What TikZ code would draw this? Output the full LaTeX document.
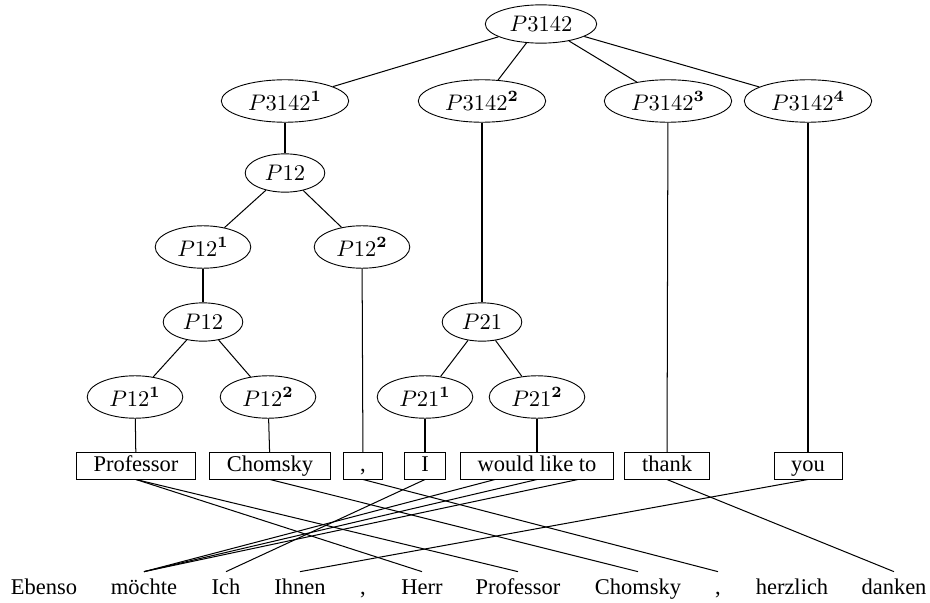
\documentclass[tikz,border=0pt]{standalone}
\usepackage[no-math]{fontspec}
\newfontfamily\wordfont{Liberation Serif}
\usetikzlibrary{shapes.geometric}
\begin{document}
\begin{tikzpicture}[x=0.4444pt,y=-0.4444pt,
  phrase/.style={ellipse,draw,inner xsep=3.6pt,inner ysep=2.6pt},
  tok/.style={draw,rectangle,font=\wordfont,inner xsep=7.6pt,inner ysep=0pt,
    minimum height=11.6pt,text height=6.8pt,text depth=2pt},
  srcword/.style={font=\wordfont,inner sep=3.33pt,text height=6.8pt,text depth=2pt},
  link/.style={line width=0.45pt}]
\useasboundingbox (0,0) rectangle (930,603);

% permutation tree
\node[phrase] (r)   at (541,24)  {$P3142$};
\node[phrase] (a1)  at (285,101) {$P3142^{\mathbf{1}}$};
\node[phrase] (a2)  at (482,101) {$P3142^{\mathbf{2}}$};
\node[phrase] (a3)  at (668,101) {$P3142^{\mathbf{3}}$};
\node[phrase] (a4)  at (808,101) {$P3142^{\mathbf{4}}$};
\node[phrase] (b)   at (285,173) {$P12$};
\node[phrase] (b1)  at (203,247) {$P12^{\mathbf{1}}$};
\node[phrase] (b2)  at (362,247) {$P12^{\mathbf{2}}$};
\node[phrase] (c)   at (203,322) {$P12$};
\node[phrase] (d)   at (482,322) {$P21$};
\node[phrase] (c1)  at (135,397) {$P12^{\mathbf{1}}$};
\node[phrase] (c2)  at (268,397) {$P12^{\mathbf{2}}$};
\node[phrase] (d1)  at (425,397) {$P21^{\mathbf{1}}$};
\node[phrase] (d2)  at (537,397) {$P21^{\mathbf{2}}$};

% English tokens
\node[tok] (tProf)  at (136,466) {Professor};
\node[tok] (tChom)  at (270,466) {Chomsky};
\node[tok] (tComma) at (363,466) {,};
\node[tok] (tI)     at (425,466) {I};
\node[tok] (tWlt)   at (537,466) {would like to};
\node[tok] (tThank) at (667,466) {thank};
\node[tok] (tYou)   at (808,466) {you};

% German words
\node[srcword] (g1)  at (44,589.5)  {Ebenso};
\node[srcword] (g2)  at (144,589.5) {möchte};
\node[srcword] (g3)  at (226,589.5) {Ich};
\node[srcword] (g4)  at (300,589.5) {Ihnen};
\node[srcword] (g5)  at (363,589.5) {,};
\node[srcword] (g6)  at (422,589.5) {Herr};
\node[srcword] (g7)  at (518,589.5) {Professor};
\node[srcword] (g8)  at (638,589.5) {Chomsky};
\node[srcword] (g9)  at (718,589.5) {,};
\node[srcword] (g10) at (792,589.5) {herzlich};
\node[srcword] (g11) at (894,589.5) {danken};

% tree edges
\begin{scope}[link]
\draw (r) -- (a1); \draw (r) -- (a2); \draw (r) -- (a3); \draw (r) -- (a4);
\draw (a1) -- (b);
\draw (b) -- (b1); \draw (b) -- (b2);
\draw (b1) -- (c);
\draw (c) -- (c1); \draw (c) -- (c2);
\draw (a2) -- (d);
\draw (d) -- (d1); \draw (d) -- (d2);
\draw (c1) -- (tProf);
\draw (c2) -- (tChom);
\draw (b2) -- (tComma);
\draw (d1) -- (tI);
\draw (d2) -- (tWlt);
\draw (a3) -- (tThank);
\draw (a4) -- (tYou);
\end{scope}

% word alignment links
\coordinate (wWould) at ([xshift=-42*0.4444pt]tWlt.south);
\coordinate (wLike)  at (tWlt.south);
\coordinate (wTo)    at ([xshift=41*0.4444pt]tWlt.south);
\begin{scope}[link]
\draw (tProf.south) -- (g6.north);
\draw (tProf.south) -- (g7.north);
\draw (tChom.south) -- (g8.north);
\draw (tComma.south) -- (g9.north);
\draw (tI.south) -- (g3.north);
\draw (wWould) -- (g2.north);
\draw (wLike) -- (g2.north);
\draw (wTo) -- (g2.north);
\draw (tThank.south) -- (g11.north);
\draw (tYou.south) -- (g4.north);
\end{scope}
\end{tikzpicture}
\end{document}
